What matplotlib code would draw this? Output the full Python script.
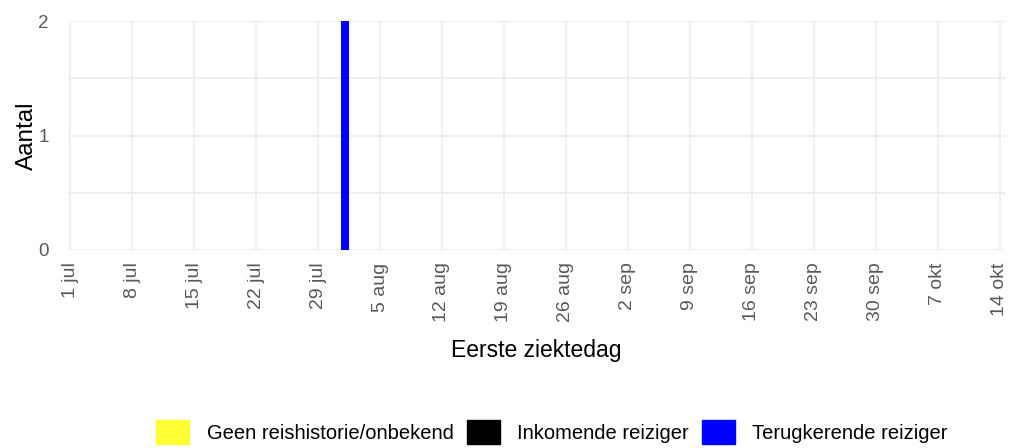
import matplotlib
matplotlib.use("Agg")
import matplotlib.pyplot as plt
import matplotlib.dates as mdates
import matplotlib.patches as mpatches
import numpy as np
import datetime as dt

plt.rcParams['font.family'] = ['Liberation Sans', 'DejaVu Sans']

# Data
dates = ["2020-08-01"]
categories = ["Geen reishistorie/onbekend", "Inkomende reiziger", "Terugkerende reiziger"]
colors = ["#FFFF33", "#000000", "#0000FF"]
geen = [0]
inkomend = [0]
terugkerend = [2]
tick_dates = ["2020-07-01", "2020-07-08", "2020-07-15", "2020-07-22", "2020-07-29",
              "2020-08-05", "2020-08-12", "2020-08-19", "2020-08-26", "2020-09-02",
              "2020-09-09", "2020-09-16", "2020-09-23", "2020-09-30", "2020-10-07",
              "2020-10-14"]
tick_labels = ["1 jul", "8 jul", "15 jul", "22 jul", "29 jul", "5 aug", "12 aug", "19 aug",
               "26 aug", "2 sep", "9 sep", "16 sep", "23 sep", "30 sep", "7 okt", "14 okt"]

x = mdates.date2num([dt.datetime.fromisoformat(d) for d in dates])
ticks = mdates.date2num([dt.datetime.fromisoformat(d) for d in tick_dates])

fig = plt.figure(figsize=(10.09, 4.48), dpi=100)
ax = fig.add_axes([0.0674, 0.442, 0.9286, 0.511])

series = [geen, inkomend, terugkerend]
bottom = np.zeros(len(x))
for vals, col in zip(series, colors):
    v = np.array(vals, dtype=float)
    ax.bar(x, v, bottom=bottom, width=0.9, color=col, align='center', zorder=3)
    bottom += v

ax.set_xlim(ticks[0] - 0.25, ticks[-1] + 0.6)
ax.set_ylim(0, 2)
ax.set_xticks(ticks)
ax.set_xticklabels(tick_labels, rotation=90, fontsize=14, color="#595959")
ax.set_yticks([0, 1, 2])
ax.set_yticks([0.5, 1.5], minor=True)
ax.set_yticklabels(["0", "1", "2"], fontsize=13.5, color="#595959")
ax.tick_params(axis='both', which='both', length=0)
ax.tick_params(axis='x', pad=9)
ax.tick_params(axis='y', pad=14)
ax.grid(True, which='major', color="#EBEBEB", linewidth=1.1, zorder=0)
ax.grid(True, which='minor', axis='y', color="#EBEBEB", linewidth=1.1, zorder=0)
for s in ax.spines.values():
    s.set_visible(False)

ax.set_ylabel("Aantal", fontsize=17.5, labelpad=0)
ax.set_xlabel("Eerste ziektedag", fontsize=16.5, labelpad=12)

handles = [mpatches.Patch(color=c, label=l) for c, l in zip(colors, categories)]
fig.legend(handles=handles, loc='center', bbox_to_anchor=(0.547, 0.036), ncol=3,
           frameon=False, fontsize=14.5, handlelength=1.65, handleheight=1.5,
           columnspacing=0.65, handletextpad=0.85, borderaxespad=0, borderpad=0)

fig.savefig("out.png", dpi=100)
